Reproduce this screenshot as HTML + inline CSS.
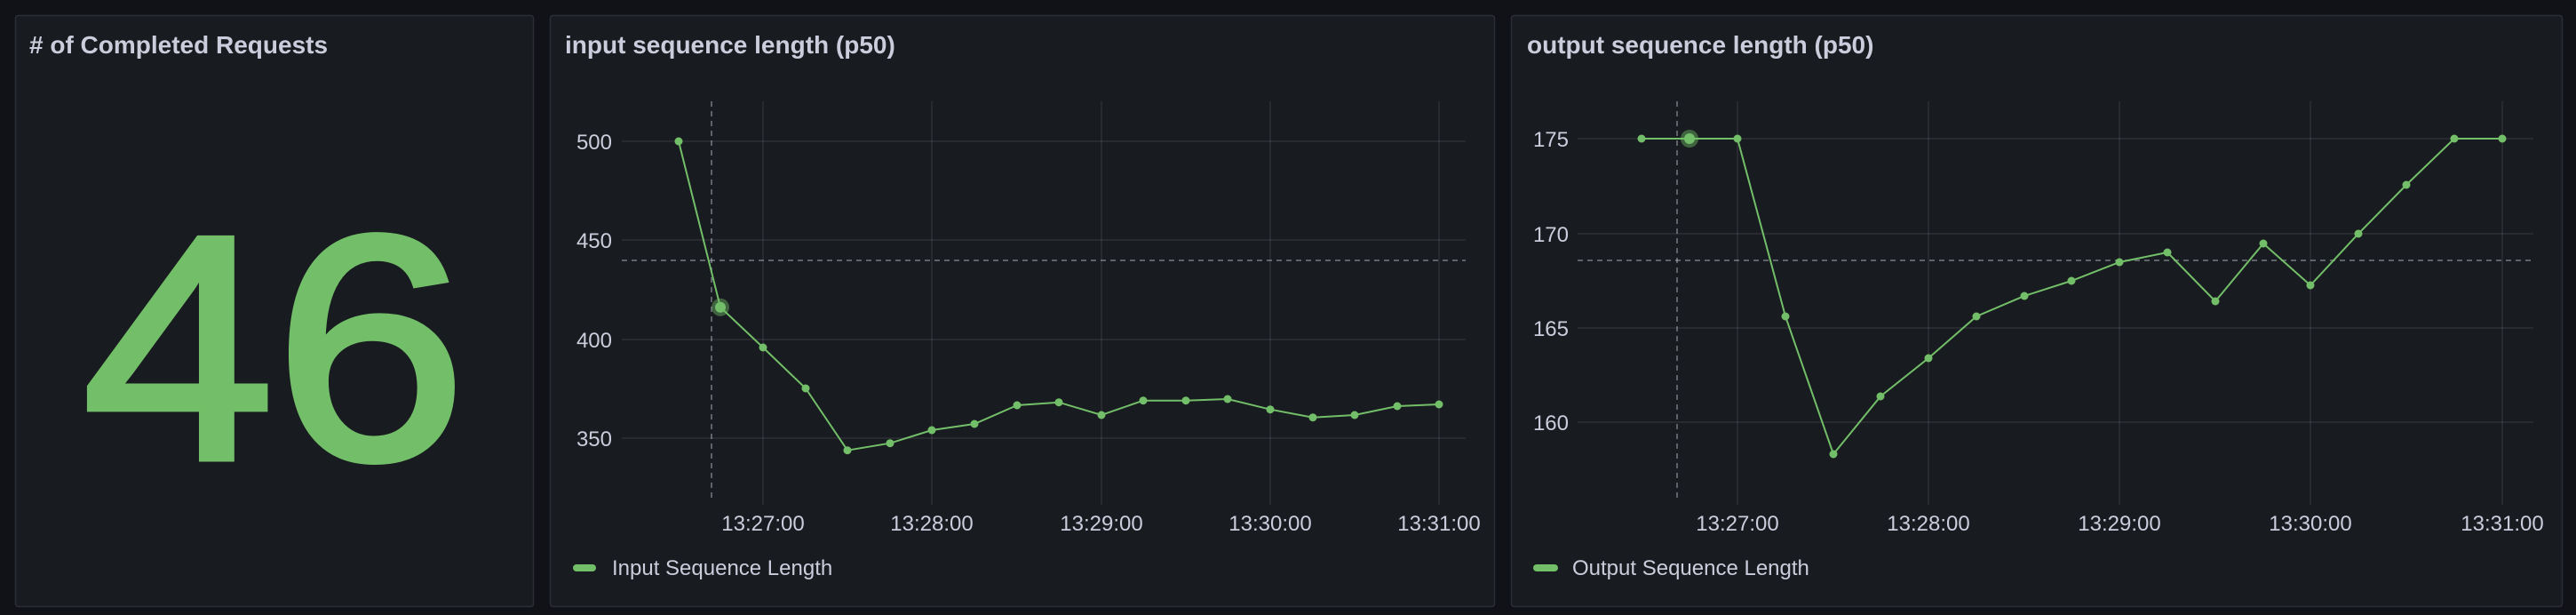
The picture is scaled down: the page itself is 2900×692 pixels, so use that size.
<!DOCTYPE html>
<html><head><meta charset="utf-8"><style>
html,body{margin:0;padding:0;background:#111217;}
svg{display:block;}
text{font-family:"Liberation Sans",sans-serif;}
</style></head><body>
<svg width="2900" height="692" viewBox="0 0 2900 692" xmlns="http://www.w3.org/2000/svg">
<rect width="2900" height="692" fill="#111217"/>
<!-- panels -->
<rect x="17.5" y="17.5" width="583" height="665" rx="3" fill="#181b1f" stroke="#2b2e35" stroke-width="1.5"/>
<rect x="619.5" y="17.5" width="1063" height="665" rx="3" fill="#181b1f" stroke="#2b2e35" stroke-width="1.5"/>
<rect x="1701.5" y="17.5" width="1183" height="665" rx="3" fill="#181b1f" stroke="#2b2e35" stroke-width="1.5"/>
<g fill="#ccccdc" font-size="28" font-weight="bold">
<text x="33" y="60">#  of Completed Requests</text>
<text x="636" y="60">input sequence length (p50)</text>
<text x="1719" y="60">output sequence length (p50)</text>
</g>
<text x="0" y="0" text-anchor="middle" font-size="360" fill="#73bf69" stroke="#73bf69" stroke-width="7" stroke-linejoin="miter" transform="translate(309,516) scale(1.08,1)">46</text>

<!-- panel 2 -->
<g stroke="rgba(204,204,220,0.12)" stroke-width="1.5">
<line x1="700" x2="1650" y1="159" y2="159"/><line x1="700" x2="1650" y1="270" y2="270"/>
<line x1="700" x2="1650" y1="382" y2="382"/><line x1="700" x2="1650" y1="493" y2="493"/>
<line x1="859" x2="859" y1="114" y2="568"/><line x1="1049" x2="1049" y1="114" y2="568"/>
<line x1="1240" x2="1240" y1="114" y2="568"/><line x1="1430" x2="1430" y1="114" y2="568"/>
<line x1="1620" x2="1620" y1="114" y2="568"/>
</g>
<g stroke="rgba(204,204,220,0.4)" stroke-width="2" stroke-dasharray="6,5">
<line x1="700" x2="1650" y1="293" y2="293"/><line x1="801" x2="801" y1="114" y2="560"/>
</g>
<g fill="#ccccdc" font-size="24">
<text x="689" y="168" text-anchor="end">500</text><text x="689" y="279" text-anchor="end">450</text>
<text x="689" y="391" text-anchor="end">400</text><text x="689" y="502" text-anchor="end">350</text>
<g text-anchor="middle"><text x="859" y="597">13:27:00</text><text x="1049" y="597">13:28:00</text><text x="1240" y="597">13:29:00</text><text x="1430" y="597">13:30:00</text><text x="1620" y="597">13:31:00</text></g>
<text x="689" y="647">Input Sequence Length</text>
</g>
<rect x="645" y="635" width="26" height="8" rx="4" fill="#73bf69"/>
<polyline fill="none" stroke="#73bf69" stroke-width="2" points="764,159 811,345.7 859,391 907,437 954,506.7 1002,498.7 1049,484 1097,477 1145,456 1192,452.7 1240,467 1287,450.7 1335,450.7 1382,449 1430,460.7 1478,469.7 1525,467 1573,457 1620,455"/>
<g fill="#73bf69">
<circle cx="811" cy="345.7" r="10" fill="rgba(115,191,105,0.45)"/>
<circle cx="764" cy="159" r="4.5"/><circle cx="811" cy="345.7" r="6"/><circle cx="859" cy="391" r="4.5"/><circle cx="907" cy="437" r="4.5"/><circle cx="954" cy="506.7" r="4.5"/><circle cx="1002" cy="498.7" r="4.5"/><circle cx="1049" cy="484" r="4.5"/><circle cx="1097" cy="477" r="4.5"/><circle cx="1145" cy="456" r="4.5"/><circle cx="1192" cy="452.7" r="4.5"/><circle cx="1240" cy="467" r="4.5"/><circle cx="1287" cy="450.7" r="4.5"/><circle cx="1335" cy="450.7" r="4.5"/><circle cx="1382" cy="449" r="4.5"/><circle cx="1430" cy="460.7" r="4.5"/><circle cx="1478" cy="469.7" r="4.5"/><circle cx="1525" cy="467" r="4.5"/><circle cx="1573" cy="457" r="4.5"/><circle cx="1620" cy="455" r="4.5"/>
</g>

<!-- panel 3 -->
<g stroke="rgba(204,204,220,0.12)" stroke-width="1.5">
<line x1="1776" x2="2852" y1="156" y2="156"/><line x1="1776" x2="2852" y1="263" y2="263"/>
<line x1="1776" x2="2852" y1="369" y2="369"/><line x1="1776" x2="2852" y1="475" y2="475"/>
<line x1="1956" x2="1956" y1="114" y2="568"/><line x1="2171" x2="2171" y1="114" y2="568"/>
<line x1="2386" x2="2386" y1="114" y2="568"/><line x1="2601" x2="2601" y1="114" y2="568"/>
<line x1="2817" x2="2817" y1="114" y2="568"/>
</g>
<g stroke="rgba(204,204,220,0.4)" stroke-width="2" stroke-dasharray="6,5">
<line x1="1776" x2="2852" y1="293" y2="293"/><line x1="1888" x2="1888" y1="114" y2="560"/>
</g>
<g fill="#ccccdc" font-size="24">
<text x="1766" y="165" text-anchor="end">175</text><text x="1766" y="272" text-anchor="end">170</text>
<text x="1766" y="378" text-anchor="end">165</text><text x="1766" y="484" text-anchor="end">160</text>
<g text-anchor="middle"><text x="1956" y="597">13:27:00</text><text x="2171" y="597">13:28:00</text><text x="2386" y="597">13:29:00</text><text x="2601" y="597">13:30:00</text><text x="2817" y="597">13:31:00</text></g>
<text x="1770" y="647">Output Sequence Length</text>
</g>
<rect x="1726" y="635" width="28" height="8" rx="4" fill="#73bf69"/>
<polyline fill="none" stroke="#73bf69" stroke-width="2" points="1848,156 1902,156 1956,156 2010,356 2064,511 2117,446 2171,403 2225,356 2279,333 2332,316 2386,295 2440,284 2494,339 2548,274 2601,321 2655,263 2709,208 2763,156 2817,156"/>
<g fill="#73bf69">
<circle cx="1902" cy="156" r="10" fill="rgba(115,191,105,0.45)"/>
<circle cx="1848" cy="156" r="4.5"/><circle cx="1902" cy="156" r="6"/><circle cx="1956" cy="156" r="4.5"/><circle cx="2010" cy="356" r="4.5"/><circle cx="2064" cy="511" r="4.5"/><circle cx="2117" cy="446" r="4.5"/><circle cx="2171" cy="403" r="4.5"/><circle cx="2225" cy="356" r="4.5"/><circle cx="2279" cy="333" r="4.5"/><circle cx="2332" cy="316" r="4.5"/><circle cx="2386" cy="295" r="4.5"/><circle cx="2440" cy="284" r="4.5"/><circle cx="2494" cy="339" r="4.5"/><circle cx="2548" cy="274" r="4.5"/><circle cx="2601" cy="321" r="4.5"/><circle cx="2655" cy="263" r="4.5"/><circle cx="2709" cy="208" r="4.5"/><circle cx="2763" cy="156" r="4.5"/><circle cx="2817" cy="156" r="4.5"/>
</g>
</svg>
</body></html>
